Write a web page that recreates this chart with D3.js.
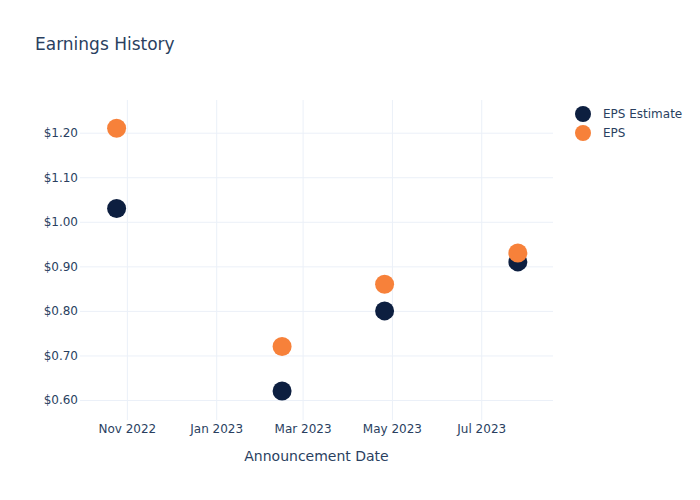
<!DOCTYPE html>
<html><head><meta charset="utf-8">
<script src="https://cdn.jsdelivr.net/npm/d3@7"></script>
<style>body{margin:0;background:#fff}svg{font-family:"DejaVu Sans",sans-serif}</style>
</head><body><svg id="c" width="700" height="500"></svg>
<script>
const dates = ["2022-10-25","2023-02-15","2023-04-26","2023-07-26"];
const epsEstimate = [1.03, 0.62, 0.80, 0.91];
const eps = [1.21, 0.72, 0.86, 0.93];
const seriesNames = ["EPS Estimate","EPS"];
const xTickDates = ["2022-11-01","2023-01-01","2023-03-01","2023-05-01","2023-07-01"];
const xTickLabels = ["Nov 2022","Jan 2023","Mar 2023","May 2023","Jul 2023"];
const yTicks = [0.6,0.7,0.8,0.9,1.0,1.1,1.2];

const colors = ["#0d1f40","#f7813a"];
const svg = d3.select("#c");
const P = d3.timeParse("%Y-%m-%d");
const L=80,R=553,T=100,B=420;
const x = d3.scaleTime().domain([P("2022-09-30"),P("2023-08-19")]).range([L,R]);
const y = d3.scaleLinear().domain([0.5551,1.2734]).range([B,T]);
const txt="#2a3f5f", grid="#ebf0f8";
const FF='"DejaVu Sans", sans-serif';

const gx = svg.append("g").attr("transform",`translate(0,${B})`)
  .call(d3.axisBottom(x).tickValues(xTickDates.map(P)).tickFormat((d,i)=>xTickLabels[i]).tickSize(-(B-T)).tickPadding(4));
gx.attr("font-family",FF);
gx.select(".domain").remove();
gx.selectAll("line").attr("stroke",grid);
gx.selectAll("text").attr("fill",txt).attr("font-size",12);

const gy = svg.append("g").attr("transform",`translate(${L},0)`)
  .call(d3.axisLeft(y).tickValues(yTicks).tickFormat(d=>"$"+d.toFixed(2)).tickSize(-(R-L)).tickPadding(2));
gy.attr("font-family",FF);
gy.select(".domain").remove();
gy.selectAll("line").attr("stroke",grid);
gy.selectAll("text").attr("fill",txt).attr("font-size",12);

const series=[epsEstimate,eps];
series.forEach((vals,si)=>{
  svg.append("g").selectAll("circle").data(vals).join("circle")
    .attr("cx",(d,i)=>x(P(dates[i]))).attr("cy",d=>y(d)).attr("r",9.5)
    .attr("fill",colors[si]);
});

svg.append("text").attr("x",35).attr("y",50).attr("fill",txt).attr("font-size",17).text("Earnings History");
svg.append("text").attr("x",(L+R)/2).attr("y",461).attr("text-anchor","middle").attr("fill",txt).attr("font-size",14).text("Announcement Date");

const lg = svg.append("g");
seriesNames.forEach((n,i)=>{
  lg.append("circle").attr("cx",583).attr("cy",114+i*19).attr("r",8).attr("fill",colors[i]);
  lg.append("text").attr("x",603).attr("y",114+i*19).attr("dy","0.35em").attr("fill",txt).attr("font-size",12).text(n);
});
</script></body></html>
